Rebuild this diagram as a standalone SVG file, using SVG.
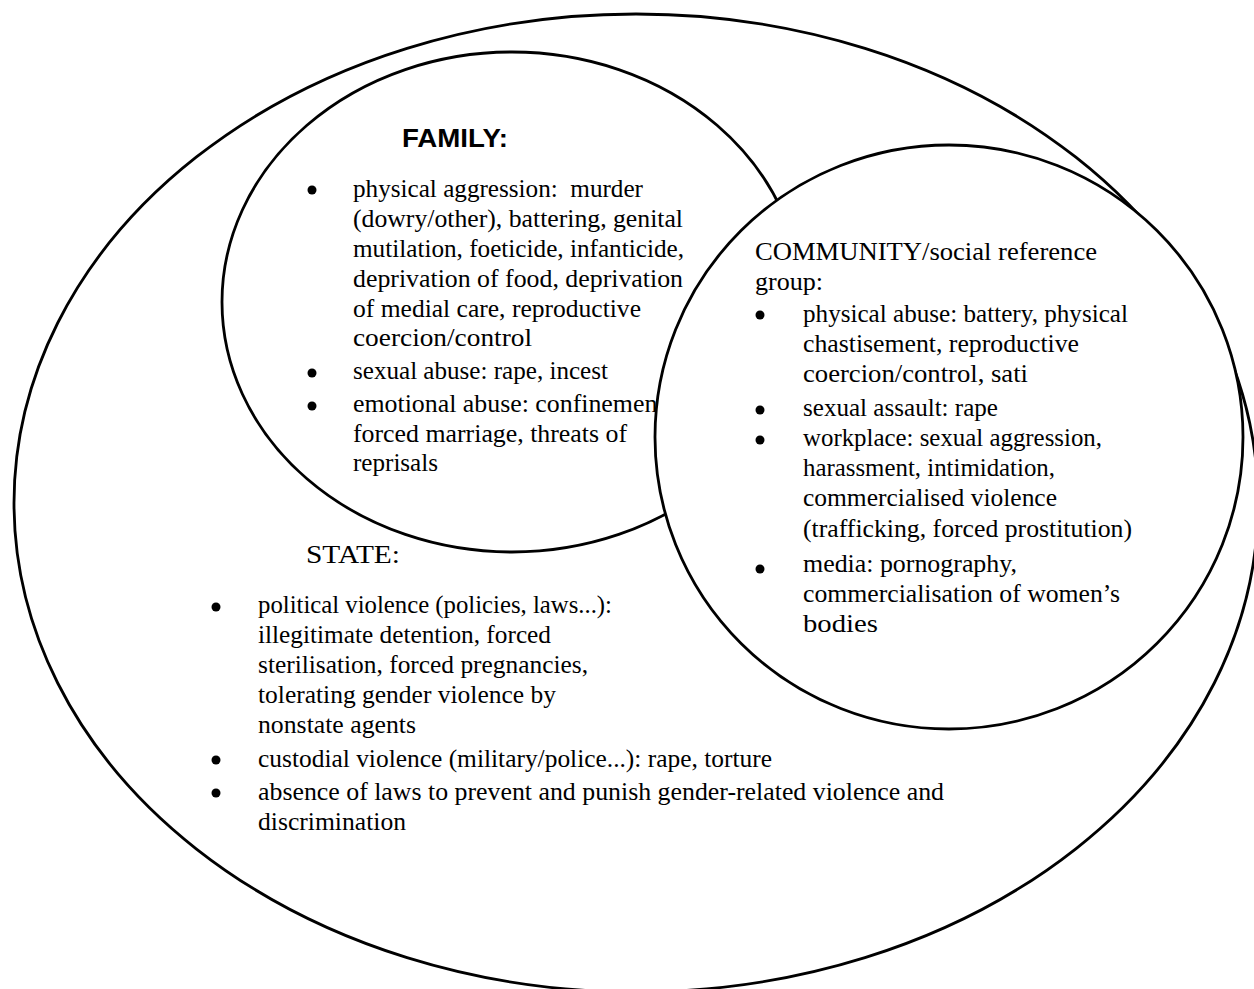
<svg xmlns="http://www.w3.org/2000/svg" width="1254" height="989" viewBox="0 0 1254 989">
<style>
.sh{fill:#fff;stroke:#000;stroke-width:2.8}
.t{font-family:"Liberation Serif","Times New Roman",serif;font-size:25px;fill:#000}
.h{font-family:"Liberation Sans",Arial,sans-serif;font-size:25px;font-weight:bold;fill:#000}
.b{fill:#000}
</style>
<rect width="1254" height="989" fill="#fff"/>
<g id="state">
<ellipse class="sh" cx="636" cy="503" rx="622" ry="489"/>
</g>
<g id="family">
<ellipse class="sh" cx="512" cy="302" rx="290" ry="250"/>
<text class="h" x="402" y="147" textLength="106" lengthAdjust="spacingAndGlyphs">FAMILY:</text>
<circle class="b" cx="312" cy="190" r="4.5"/>
<circle class="b" cx="312" cy="373" r="4.5"/>
<circle class="b" cx="312" cy="406" r="4.5"/>
<text class="t" x="353" y="197" textLength="290" lengthAdjust="spacingAndGlyphs">physical aggression:&#160; murder</text>
<text class="t" x="353" y="227" textLength="330" lengthAdjust="spacingAndGlyphs">(dowry/other), battering, genital</text>
<text class="t" x="353" y="257" textLength="331" lengthAdjust="spacingAndGlyphs">mutilation, foeticide, infanticide,</text>
<text class="t" x="353" y="287" textLength="330" lengthAdjust="spacingAndGlyphs">deprivation of food, deprivation</text>
<text class="t" x="353" y="317" textLength="288" lengthAdjust="spacingAndGlyphs">of medial care, reproductive</text>
<text class="t" x="353" y="346" textLength="179" lengthAdjust="spacingAndGlyphs">coercion/control</text>
<text class="t" x="353" y="379" textLength="255" lengthAdjust="spacingAndGlyphs">sexual abuse: rape, incest</text>
<text class="t" x="353" y="412" textLength="318" lengthAdjust="spacingAndGlyphs">emotional abuse: confinement,</text>
<text class="t" x="353" y="442" textLength="274" lengthAdjust="spacingAndGlyphs">forced marriage, threats of</text>
<text class="t" x="353" y="471" textLength="85" lengthAdjust="spacingAndGlyphs">reprisals</text>
</g>
<g id="community">
<ellipse class="sh" cx="949" cy="437" rx="294" ry="292"/>
<text class="t" x="755" y="260" textLength="342" lengthAdjust="spacingAndGlyphs">COMMUNITY/social reference</text>
<text class="t" x="755" y="290" textLength="68" lengthAdjust="spacingAndGlyphs">group:</text>
<circle class="b" cx="760" cy="315" r="4.5"/>
<circle class="b" cx="760" cy="410" r="4.5"/>
<circle class="b" cx="760" cy="440" r="4.5"/>
<circle class="b" cx="760" cy="569" r="4.5"/>
<text class="t" x="803" y="322" textLength="325" lengthAdjust="spacingAndGlyphs">physical abuse: battery, physical</text>
<text class="t" x="803" y="352" textLength="276" lengthAdjust="spacingAndGlyphs">chastisement, reproductive</text>
<text class="t" x="803" y="382" textLength="225" lengthAdjust="spacingAndGlyphs">coercion/control, sati</text>
<text class="t" x="803" y="416" textLength="195" lengthAdjust="spacingAndGlyphs">sexual assault: rape</text>
<text class="t" x="803" y="446" textLength="299" lengthAdjust="spacingAndGlyphs">workplace: sexual aggression,</text>
<text class="t" x="803" y="476" textLength="252" lengthAdjust="spacingAndGlyphs">harassment, intimidation,</text>
<text class="t" x="803" y="506" textLength="254" lengthAdjust="spacingAndGlyphs">commercialised violence</text>
<text class="t" x="803" y="537" textLength="329" lengthAdjust="spacingAndGlyphs">(trafficking, forced prostitution)</text>
<text class="t" x="803" y="572" textLength="214" lengthAdjust="spacingAndGlyphs">media: pornography,</text>
<text class="t" x="803" y="602" textLength="317" lengthAdjust="spacingAndGlyphs">commercialisation of women’s</text>
<text class="t" x="803" y="632" textLength="75" lengthAdjust="spacingAndGlyphs">bodies</text>
</g>
<g id="state-text">
<text class="t" x="306" y="563" textLength="94" lengthAdjust="spacingAndGlyphs">STATE:</text>
<circle class="b" cx="216" cy="607" r="4.5"/>
<circle class="b" cx="216" cy="760" r="4.5"/>
<circle class="b" cx="216" cy="793" r="4.5"/>
<text class="t" x="258" y="613" textLength="354" lengthAdjust="spacingAndGlyphs">political violence (policies, laws...):</text>
<text class="t" x="258" y="643" textLength="293" lengthAdjust="spacingAndGlyphs">illegitimate detention, forced</text>
<text class="t" x="258" y="673" textLength="330" lengthAdjust="spacingAndGlyphs">sterilisation, forced pregnancies,</text>
<text class="t" x="258" y="703" textLength="298" lengthAdjust="spacingAndGlyphs">tolerating gender violence by</text>
<text class="t" x="258" y="733" textLength="158" lengthAdjust="spacingAndGlyphs">nonstate agents</text>
<text class="t" x="258" y="767" textLength="514" lengthAdjust="spacingAndGlyphs">custodial violence (military/police...): rape, torture</text>
<text class="t" x="258" y="800" textLength="686" lengthAdjust="spacingAndGlyphs">absence of laws to prevent and punish gender-related violence and</text>
<text class="t" x="258" y="830" textLength="148" lengthAdjust="spacingAndGlyphs">discrimination</text>
</g>
</svg>
